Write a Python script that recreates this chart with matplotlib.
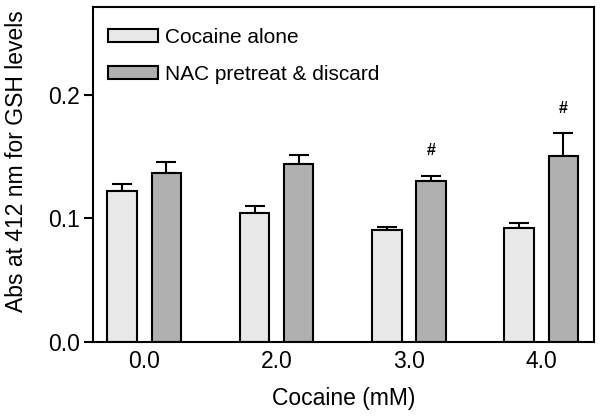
import matplotlib
matplotlib.use('Agg')
import matplotlib.pyplot as plt
import numpy as np

plt.rcParams['font.family'] = ['Liberation Sans', 'DejaVu Sans']

# data
doses = ['0.0', '2.0', '3.0', '4.0']
cocaine_alone = [0.1220, 0.1042, 0.0902, 0.0923]
cocaine_alone_err = [0.0054, 0.0054, 0.0029, 0.0038]
nac_pretreat = [0.1369, 0.1436, 0.1298, 0.1506]
nac_pretreat_err = [0.0083, 0.0078, 0.0046, 0.0186]
significant = [False, False, True, True]

fig = plt.figure(figsize=(6.02, 4.17), dpi=100)
ax = fig.add_axes([0.154, 0.181, 0.833, 0.802])

x = np.arange(len(doses))
w = 0.223
off = 0.167
ax.bar(x - off, cocaine_alone, w, color='#e8e8e8', edgecolor='black',
       linewidth=1.5, label='Cocaine alone', zorder=2)
ax.bar(x + off, nac_pretreat, w, color='#b0b0b0', edgecolor='black',
       linewidth=1.5, label='NAC pretreat & discard', zorder=2)

# upper error bars only
ax.errorbar(x - off, cocaine_alone, yerr=[np.zeros(4), cocaine_alone_err],
            fmt='none', ecolor='black', elinewidth=1.5, capsize=7,
            capthick=1.5, zorder=1)
ax.errorbar(x + off, nac_pretreat, yerr=[np.zeros(4), nac_pretreat_err],
            fmt='none', ecolor='black', elinewidth=1.5, capsize=7,
            capthick=1.5, zorder=1)

for i, s in enumerate(significant):
    if s:
        ax.text(x[i] + off, nac_pretreat[i] + nac_pretreat_err[i] + 0.02, '#',
                ha='center', va='center', fontsize=11.5, fontweight='bold')

ax.set_xlim(-0.39, 3.40)
ax.set_ylim(0, 0.271)
ax.set_yticks([0.0, 0.1, 0.2])
ax.set_yticklabels(['0.0', '0.1', '0.2'])
ax.set_xticks(x)
ax.set_xticklabels(doses)
ax.tick_params(axis='x', length=0, pad=6, labelsize=16.5)
ax.tick_params(axis='y', length=6.5, width=1.5, pad=3, labelsize=16.5)
for sp in ax.spines.values():
    sp.set_linewidth(1.5)

ax.set_xlabel('Cocaine (mM)', fontsize=16.5)
ax.set_ylabel('Abs at 412 nm for GSH levels', fontsize=16.5)
ax.xaxis.set_label_coords(0.5, -0.135)
ax.yaxis.set_label_coords(-0.13, 0.538)

ax.legend(loc='upper left', bbox_to_anchor=(0.03, 0.938), frameon=False,
          fontsize=15, handlelength=2.4, handleheight=0.61,
          handletextpad=0.34, labelspacing=0.87, borderpad=0,
          borderaxespad=0)

fig.savefig('out.png', dpi=100)
